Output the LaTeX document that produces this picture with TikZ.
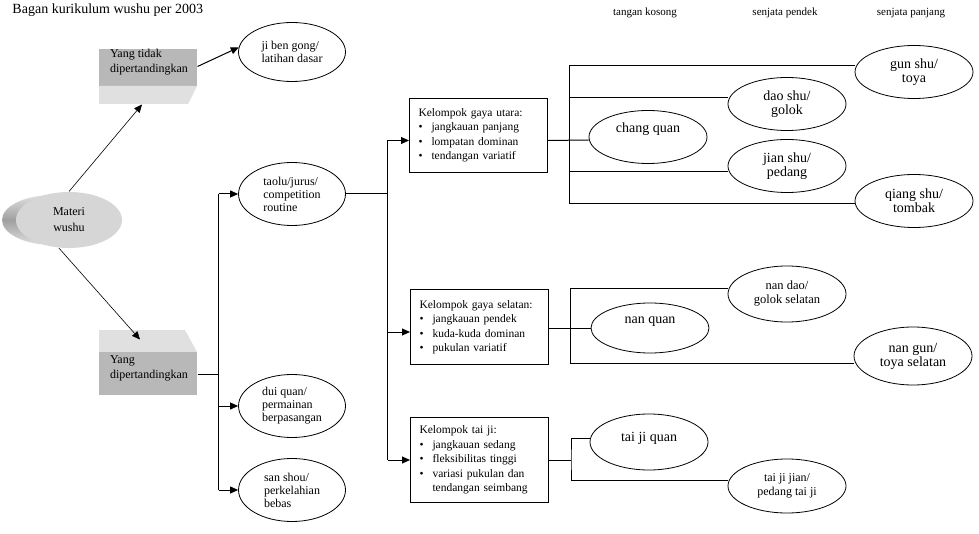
\documentclass[tikz,border=0pt]{standalone}
\usepackage{fontspec}
\setmainfont{Liberation Serif}
\usetikzlibrary{shapes.geometric,positioning,arrows.meta}

\definecolor{abu_tua}{RGB}{184,184,184}
\definecolor{abu_muda}{RGB}{224,224,224}
\definecolor{abu_depan}{RGB}{214,214,214}
\newcommand{\butir}{\makebox[13pt][l]{\textbullet}}
\newcommand{\isikotak}[3]{\begin{minipage}[c][#1][t]{98pt}\leftskip=11pt\vspace*{#2}#3\end{minipage}}

\begin{document}
\begin{tikzpicture}[x=1pt,y=-1pt,node distance=60pt,on grid,line width=1pt,
    jurus/.style={ellipse, draw, line width=0.8pt, minimum width=107pt, minimum height=63pt, inner sep=0pt, align=left, font=\fontsize{12}{13}\selectfont},
    senjata/.style={ellipse, draw, line width=0.8pt, minimum width=118pt, minimum height=53pt, inner sep=0pt, align=center, font=\fontsize{14}{14}\selectfont},
    kelompok/.style={draw, rectangle, anchor=north west, text width=120pt, inner xsep=9pt, align=left, font=\fontsize{11.5}{14.5}\selectfont},
    kolom/.style={font=\fontsize{11}{13}\selectfont},
    panah/.style={-{Triangle[length=8pt,width=7pt]}}]

    \useasboundingbox (0,0) rectangle (979,534);

    \node[anchor=west, inner sep=0pt, font=\fontsize{14}{16}\selectfont] (judul_bagan) at (12,10) {Bagan kurikulum wushu per 2003};
    \node[kolom] (tangan_kosong)   at (645,13) {tangan kosong};
    \node[kolom] (senjata_pendek)  at (785,13) {senjata pendek};
    \node[kolom] (senjata_panjang) at (911,13) {senjata panjang};

    % bentuk tiga dimensi
    \shade[top color=gray!25, bottom color=gray!25, middle color=gray!75] (53,220) ellipse [x radius=51, y radius=25];
    \fill[abu_tua] (99,49) rectangle (197,86);
    \fill[abu_muda] (99,86) -- (197,86) -- (188,104) -- (99,104) -- cycle;
    \fill[abu_muda] (99,330) -- (185,330) -- (197,352) -- (99,352) -- cycle;
    \fill[abu_tua] (99,352) rectangle (197,395);

    \node[ellipse, fill=abu_depan, minimum width=106pt, minimum height=56pt, inner sep=0pt, align=center, font=\fontsize{12}{16}\selectfont] (materi_wushu) at (69,220) {Materi\\wushu};
    \node[inner sep=0pt, font=\fontsize{12}{15.5}\selectfont] (yang_tidak) at (148,76.5) {\isikotak{55pt}{0pt}{Yang tidak\\dipertandingkan}};
    \node[inner sep=0pt, font=\fontsize{12}{15}\selectfont] (yang_tanding) at (148,362.5) {\isikotak{65pt}{26pt}{Yang\\dipertandingkan}};

    \node[jurus, minimum height=59pt] (ji_ben_gong) at (292,52) {ji ben gong/\\latihan dasar};
    \node[jurus] (taolu) at (292,194) {taolu/jurus/\\competition\\routine};
    \node[jurus] (dui_quan) [below=212pt of taolu] {dui quan/\\permainan\\berpasangan};
    \node[jurus] (san_shou) [below=84pt of dui_quan] {san shou/\\perkelahian\\bebas};

    \node[kelompok, minimum height=74pt] (kelompok_utara) at (409,98)
    {Kelompok gaya utara:\\\butir jangkauan panjang\\\butir lompatan dominan\\\butir tendangan variatif};
    \node[kelompok, minimum height=75pt] (kelompok_selatan) at (410,289)
    {Kelompok gaya selatan:\\\butir jangkauan pendek\\\butir kuda-kuda dominan\\\butir pukulan variatif};
    \node[kelompok, minimum height=85pt] (kelompok_taiji) at (410,417)
    {Kelompok tai ji:\\\butir jangkauan sedang\\\butir fleksibilitas tinggi\\\butir variasi pukulan dan\\\hspace*{13pt}tendangan seimbang};

    \node[senjata, text depth=19pt] (chang_quan) at (648,137) {chang quan};
    \node[senjata] (dao_shu) at (787,104) {dao shu/\\golok};
    \node[senjata] (jian_shu) [below=62pt of dao_shu] {jian shu/\\pedang};
    \node[senjata] (gun_shu) at (914,72) {gun shu/\\toya};
    \node[senjata] (qiang_shu) [below=129pt of gun_shu] {qiang shu/\\tombak};

    \node[senjata, text depth=15pt, minimum height=50pt] (nan_quan) at (650,328) {nan quan};
    \node[senjata, minimum height=56pt, font=\fontsize{12.5}{14}\selectfont] (nan_dao) at (787,294) {nan dao/\\golok selatan};
    \node[senjata, minimum height=58pt] (nan_gun) at (913,356) {nan gun/\\toya selatan};

    \node[senjata, text depth=11pt, minimum height=56pt] (tai_ji_quan) at (649,442) {tai ji quan};
    \node[senjata, minimum height=54pt, font=\fontsize{12}{14}\selectfont] (tai_ji_jian) at (787,486) {tai ji jian/\\pedang tai ji};

    % panah dari materi
    \path[panah, line width=0.6pt]
    (materi_wushu.north) edge ([xshift=-6pt]yang_tidak.south)
    (materi_wushu.250) edge ([xshift=-8pt,yshift=-10pt]yang_tanding.north);
    \path[panah] ([yshift=10pt]yang_tidak.east) edge (ji_ben_gong.175);

    \draw ([yshift=-11.5pt]yang_tanding.east) -- ++(21pt,0) coordinate (cabang_kiri);
    \draw (cabang_kiri |- taolu.west) -- (cabang_kiri |- san_shou.west);
    \path[panah]
    (cabang_kiri |- taolu.west) edge (taolu.west)
    (cabang_kiri |- dui_quan.west) edge (dui_quan.west)
    (cabang_kiri |- san_shou.west) edge (san_shou.west);

    \draw (taolu.east) -- ++(42pt,0) coordinate (cabang_tengah);
    \draw ([yshift=-5pt]kelompok_utara.west -| cabang_tengah) -- (kelompok_taiji.west -| cabang_tengah);
    \path[panah]
    ([yshift=-5pt]kelompok_utara.west -| cabang_tengah) edge ([yshift=-5pt]kelompok_utara.west)
    ([yshift=-5pt]kelompok_selatan.west -| cabang_tengah) edge ([yshift=-5pt]kelompok_selatan.west)
    (kelompok_taiji.west -| cabang_tengah) edge (kelompok_taiji.west);

    % gaya utara
    \coordinate (bar_utara_a) at (569,66);
    \coordinate (bar_utara_d) at (569,204);
    \draw ([yshift=-5pt]kelompok_utara.east) -- ([yshift=-3pt]chang_quan.west);
    \draw (bar_utara_a -| gun_shu.west) -- (bar_utara_a) -- (bar_utara_d) -- (bar_utara_d -| qiang_shu.west);
    \draw ([yshift=6pt]dao_shu.west) -- ([yshift=6pt]dao_shu.west -| bar_utara_a);
    \draw ([yshift=-6pt]jian_shu.west) -- ([yshift=-6pt]jian_shu.west -| bar_utara_a);

    % gaya selatan
    \coordinate (bar_selatan_a) at (570,289);
    \coordinate (bar_selatan_b) at (570,363);
    \draw (kelompok_selatan.east |- nan_quan.west) -- (nan_quan.west);
    \draw (bar_selatan_a -| nan_dao.west) -- (bar_selatan_a) -- (bar_selatan_b) -- (bar_selatan_b -| nan_gun.west);

    % tai ji
    \draw (kelompok_taiji.east) -- ++(22pt,0) coordinate (cabang_taiji);
    \draw ([yshift=4pt]tai_ji_quan.west) -| (cabang_taiji) |- ([yshift=6pt]tai_ji_jian.west);

\end{tikzpicture}
\end{document}
